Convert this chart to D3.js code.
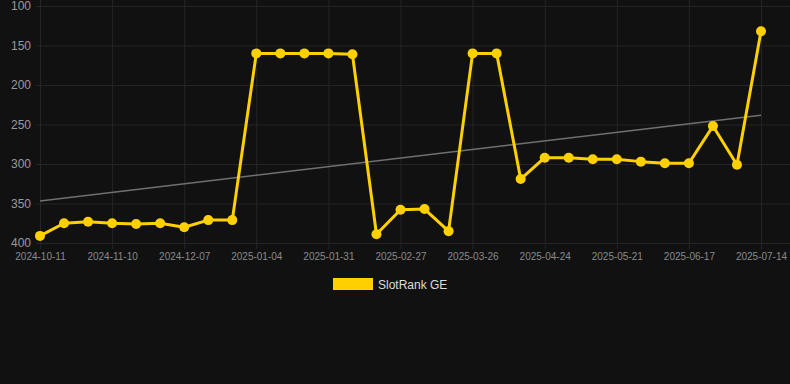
<!DOCTYPE html>
<html>
<head>
<meta charset="utf-8">
<script src="https://cdn.jsdelivr.net/npm/d3@7"></script>
<style>
  html, body { margin: 0; padding: 0; background: #111111; }
  svg { display: block; }
</style>
</head>
<body>
<div id="rankChart"></div>
<script>
// dates of each sample (only every 3rd one is labelled on the axis)
const dates = [
  '2024-10-11', '2024-10-21', '2024-10-31', '2024-11-10', '2024-11-19', '2024-11-28',
  '2024-12-07', '2024-12-16', '2024-12-25', '2025-01-04', '2025-01-13', '2025-01-22',
  '2025-01-31', '2025-02-09', '2025-02-18', '2025-02-27', '2025-03-08', '2025-03-17',
  '2025-03-26', '2025-04-05', '2025-04-14', '2025-04-24', '2025-05-03', '2025-05-12',
  '2025-05-21', '2025-05-30', '2025-06-08', '2025-06-17', '2025-06-26', '2025-07-05',
  '2025-07-14'
]
const ranks = [
  391, 375, 373, 375, 376, 375, 380, 371, 371, 160, 160, 160, 160, 161, 389, 358,
  357, 385, 160, 160, 319, 292, 292, 294, 294, 297, 299, 299, 252, 301, 132
]
const yTicks = [100, 150, 200, 250, 300, 350, 400]
const seriesName = 'SlotRank GE'

const width = 790, height = 384
const margin = {top: 6, right: 29, bottom: 141, left: 40}
const font = '"Liberation Sans", Arial, sans-serif'

const svg = d3
  .select('#rankChart')
  .append('svg')
  .attr('width', width)
  .attr('height', height)

svg.append('rect')
  .attr('width', width)
  .attr('height', height)
  .attr('fill', '#111111')

const idx = d3.range(dates.length)

const x = d3
  .scalePoint()
  .domain(idx)
  .range([margin.left, width - margin.right])

const y = d3
  .scaleLinear()
  .domain([100, 400])
  .range([margin.top, height - margin.bottom])

const labelled = idx.filter(i => i % 3 === 0)

// grid
svg.append('g')
  .selectAll('line')
  .data(yTicks)
  .enter()
  .append('line')
  .attr('x1', 36)
  .attr('x2', width)
  .attr('y1', d => y(d) + 0.5)
  .attr('y2', d => y(d) + 0.5)
  .attr('stroke', '#252525')

svg.append('g')
  .selectAll('line')
  .data(labelled)
  .enter()
  .append('line')
  .attr('x1', d => x(d) + 0.5)
  .attr('x2', d => x(d) + 0.5)
  .attr('y1', 0)
  .attr('y2', y(400) + 6)
  .attr('stroke', '#252525')

// axes
const yAxis = svg.append('g')
  .attr('transform', 'translate(31,0)')
  .call(d3.axisLeft(y).tickValues(yTicks).tickSize(0).tickPadding(0))
yAxis.select('.domain').remove()
yAxis.selectAll('text')
  .attr('fill', '#9a9a9a')
  .style('font-family', font)
  .style('font-size', '12px')

const xAxis = svg.append('g')
  .attr('transform', `translate(0,${y(400) + 10})`)
  .call(d3.axisBottom(x).tickValues(labelled).tickFormat(i => dates[i]).tickSize(0).tickPadding(0))
xAxis.select('.domain').remove()
xAxis.selectAll('text')
  .attr('fill', '#8a8a8a')
  .style('font-family', font)
  .style('font-size', '10px')

// trend line (least squares over the samples)
const mx = d3.mean(idx), my = d3.mean(ranks)
const slope = d3.sum(idx, i => (i - mx) * (ranks[i] - my)) / d3.sum(idx, i => (i - mx) * (i - mx))
const icpt = my - slope * mx
const first = idx[0], last = idx[idx.length - 1]

svg.append('line')
  .attr('x1', x(first))
  .attr('y1', y(icpt + slope * first))
  .attr('x2', x(last))
  .attr('y2', y(icpt + slope * last))
  .attr('stroke', '#707070')
  .attr('stroke-width', 1.6)

// series
const line = d3.line()
  .x(i => x(i))
  .y(i => y(ranks[i]))

svg.append('path')
  .datum(idx)
  .attr('d', line)
  .attr('fill', 'none')
  .attr('stroke', '#FFD000')
  .attr('stroke-width', 3)
  .attr('stroke-linejoin', 'round')

svg.append('g')
  .selectAll('circle')
  .data(idx)
  .enter()
  .append('circle')
  .attr('cx', i => x(i))
  .attr('cy', i => y(ranks[i]))
  .attr('r', 5)
  .attr('fill', '#FFD000')

// legend
const legend = svg.append('g').attr('transform', 'translate(333,278)')
legend.append('rect')
  .attr('width', 40)
  .attr('height', 12)
  .attr('fill', '#FFD000')
legend.append('text')
  .attr('x', 45)
  .attr('y', 10.5)
  .text(seriesName)
  .attr('fill', '#dddddd')
  .style('font-family', font)
  .style('font-size', '12px')
</script>
</body>
</html>
